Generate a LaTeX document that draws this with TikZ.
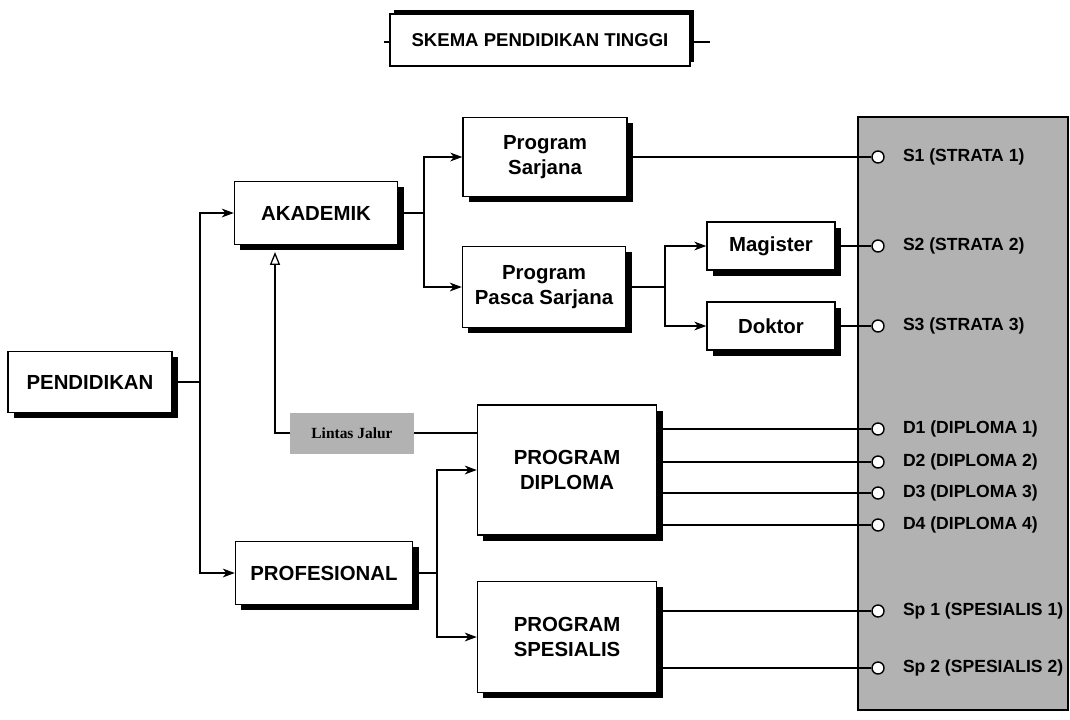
\documentclass[tikz,border=0pt]{standalone}
\usepackage{fontspec}
\setmainfont{Liberation Sans}
\newfontfamily\lintasfont{Liberation Serif}
\usetikzlibrary{arrows.meta, shadows, positioning}

\begin{document}
\begin{tikzpicture}[
    x=0.025cm, y=-0.025cm,
    box/.style={draw, fill=white, line width=1pt, align=center, inner sep=0pt, font=\fontsize{14.5}{17.8}\selectfont\bfseries,
        drop shadow={shadow xshift=0.15cm, shadow yshift=-0.14cm, opacity=1, fill=black}},
    titlebox/.style={draw, fill=white, line width=1pt, inner sep=0pt, font=\fontsize{13.2}{16}\selectfont\bfseries,
        drop shadow={shadow xshift=0.1cm, shadow yshift=0.09cm, opacity=1, fill=black}},
    port/.style={circle, draw, fill=white, line width=1pt, minimum size=0.3cm, inner sep=0pt},
    degree/.style={right=0.45cm of #1, inner sep=0pt, font=\fontsize{12.5}{14}\selectfont\bfseries},
    wire/.style={line width=0.9pt},
    arrow/.style={line width=0.9pt, -{Stealth[length=0.3cm, width=0.22cm, inset=0.09cm]}},
    openarrow/.style={line width=0.9pt, -{Triangle[open, length=0.32cm, width=0.25cm]}}
]
    \useasboundingbox (0,0) rectangle (1070,719);
    \draw[fill=black!30, line width=1pt] (858,117) rectangle (1068,710);

    \node[titlebox, minimum width=7.5cm, minimum height=1.3cm] (title) at (540,40) {SKEMA PENDIDIKAN TINGGI};
    \coordinate (tl) at (384,42);
    \coordinate (tr) at (710,42);
    \draw[wire] (title.west |- tl) -- (tl);
    \draw[wire] (title.east |- tr) -- (tr);

    \node[box, minimum width=4.1cm, minimum height=1.525cm] (pendidikan) at (90,382) {PENDIDIKAN};
    \node[box, minimum width=4.075cm, minimum height=1.575cm] (akademik) at (316,213) {AKADEMIK};
    \node[box, minimum width=4.425cm, minimum height=1.575cm] (profesional) at (324,573) {PROFESIONAL};
    \node[box, minimum width=4.1cm, minimum height=1.975cm] (sarjana) at (545,157) {Program\\Sarjana};
    \node[box, minimum width=4.075cm, minimum height=2.025cm] (pasca) at (544,287) {Program\\Pasca Sarjana};
    \node[box, minimum width=3.2cm, minimum height=1.2cm] (magister) at (771,246) {Magister};
    \node[box, minimum width=3.2cm, minimum height=1.2cm] (doktor) at (771,326) {Doktor};
    \node[box, minimum width=4.475cm, minimum height=3.25cm] (diploma) at (567,470) {PROGRAM\\DIPLOMA};
    \node[box, minimum width=4.475cm, minimum height=2.775cm] (spesialis) at (567,637) {PROGRAM\\SPESIALIS};
    \node[fill=black!30, minimum width=3.075cm, minimum height=1.025cm, font=\fontsize{11}{13}\lintasfont\bfseries] (lintas) at (352,433) {Lintas Jalur};

    \node[port] (s1) at (878,157) {};
    \node[port] (s2) at (878,246) {};
    \node[port] (s3) at (878,326) {};
    \node[port] (d1) at (878,429) {};
    \node[port] (d2) at (878,462) {};
    \node[port] (d3) at (878,493) {};
    \node[port] (d4) at (878,525) {};
    \node[port] (sp1) at (878,611) {};
    \node[port] (sp2) at (878,668) {};

    \node[degree=s1] (s1text) {S1 (STRATA 1)};
    \node[degree=s2] (s2text) {S2 (STRATA 2)};
    \node[degree=s3] (s3text) {S3 (STRATA 3)};
    \node[degree=d1] (d1text) {D1 (DIPLOMA 1)};
    \node[degree=d2] (d2text) {D2 (DIPLOMA 2)};
    \node[degree=d3] (d3text) {D3 (DIPLOMA 3)};
    \node[degree=d4] (d4text) {D4 (DIPLOMA 4)};
    \node[degree=sp1] (sp1text) {Sp 1 (SPESIALIS 1)};
    \node[degree=sp2] (sp2text) {Sp 2 (SPESIALIS 2)};

    \coordinate (j1) at (200,382);
    \coordinate (j2) at (424,213);
    \coordinate (j3) at (665,287);
    \coordinate (j4) at (437,573);
    \coordinate (l1) at (275,433);
    \coordinate (l2) at (275,252);

    \draw[wire] (pendidikan) -- (j1);
    \draw[arrow] (j1) |- (akademik);
    \draw[arrow] (j1) |- (profesional);
    \draw[wire] (akademik) -- (j2);
    \draw[arrow] (j2) |- (sarjana);
    \draw[arrow] (j2) |- (pasca);
    \draw[wire] (pasca) -- (j3);
    \draw[arrow] (j3) |- (magister);
    \draw[arrow] (j3) |- (doktor);
    \draw[wire] (profesional) -- (j4);
    \draw[arrow] (j4) |- (diploma);
    \draw[arrow] (j4) |- (spesialis);
    \draw[openarrow] (lintas) -- (l1) -- (l2);
    \draw[wire] (lintas) -- (lintas.east -| diploma.west);

    \draw[wire] (sarjana) -- (s1);
    \draw[wire] (magister) -- (s2);
    \draw[wire] (doktor) -- (s3);
    \draw[wire] (diploma.east |- d1) -- (d1);
    \draw[wire] (diploma.east |- d2) -- (d2);
    \draw[wire] (diploma.east |- d3) -- (d3);
    \draw[wire] (diploma.east |- d4) -- (d4);
    \draw[wire] (spesialis.east |- sp1) -- (sp1);
    \draw[wire] (spesialis.east |- sp2) -- (sp2);
\end{tikzpicture}
\end{document}
